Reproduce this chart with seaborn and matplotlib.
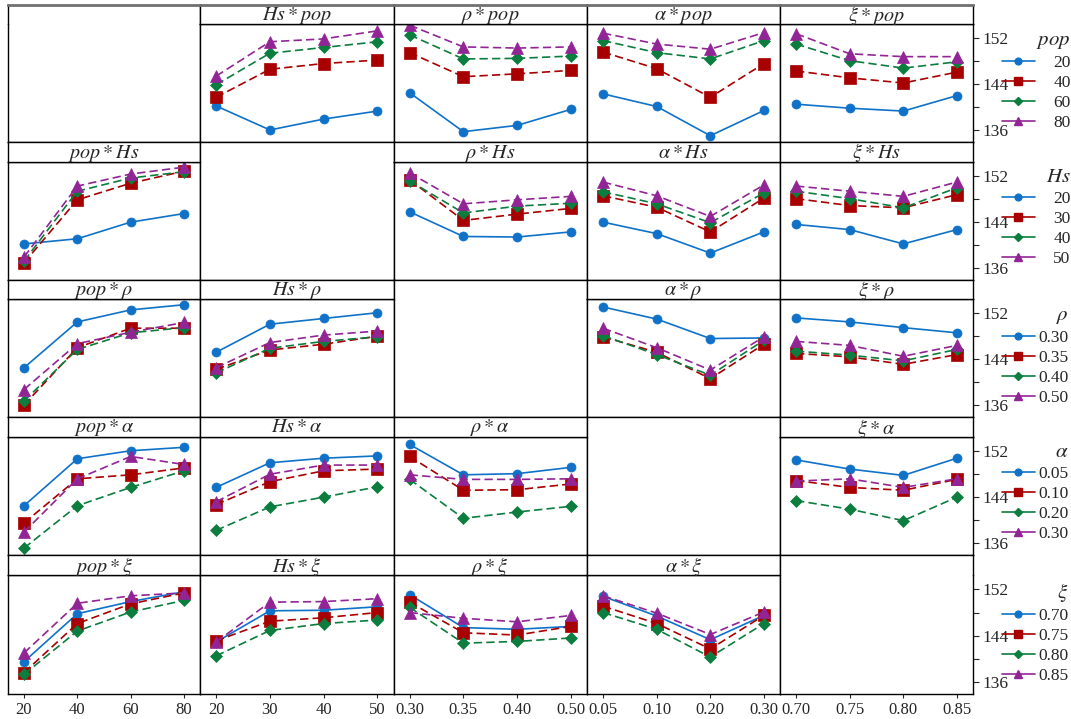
import numpy as np
import pandas as pd
import matplotlib
matplotlib.use("Agg")
import matplotlib.pyplot as plt
from matplotlib.lines import Line2D
from matplotlib.ticker import FixedLocator
import seaborn as sns

# ---------------- data ----------------
factors = ["pop", "Hs", "rho", "alpha", "xi"]
factor_tex = {"pop": "pop", "Hs": "Hs", "rho": r"\rho", "alpha": r"\alpha", "xi": r"\xi"}

pop_levels = ["20", "40", "60", "80"]
Hs_levels = ["20", "30", "40", "50"]
rho_levels = ["0.30", "0.35", "0.40", "0.50"]
alpha_levels = ["0.05", "0.10", "0.20", "0.30"]
xi_levels = ["0.70", "0.75", "0.80", "0.85"]
levels = {"pop": pop_levels, "Hs": Hs_levels, "rho": rho_levels,
          "alpha": alpha_levels, "xi": xi_levels}

# panel arrays: <x factor>_<hue factor>, one row per hue level
Hs_pop = [[140.2, 136.0, 137.9, 139.3], [141.7, 146.6, 147.6, 148.2],
          [143.9, 149.4, 150.4, 151.4], [145.4, 151.4, 151.9, 153.3]]
rho_pop = [[142.5, 135.7, 136.8, 139.6], [149.5, 145.3, 145.8, 146.4],
           [152.6, 148.4, 148.5, 148.9], [154.3, 150.5, 150.3, 150.5]]
alpha_pop = [[142.3, 140.1, 135.0, 139.4], [149.6, 146.7, 141.7, 147.6],
             [151.6, 149.5, 148.4, 151.6], [152.9, 151.0, 150.1, 153.0]]
xi_pop = [[140.5, 139.8, 139.3, 142.0], [146.3, 145.1, 144.2, 146.1],
          [151.0, 148.1, 146.8, 147.9], [152.8, 149.3, 148.8, 148.8]]

pop_Hs = [[140.2, 141.1, 144.0, 145.5], [136.9, 147.9, 150.8, 152.9],
          [137.2, 149.4, 151.7, 152.8], [137.9, 150.3, 152.4, 153.6]]
rho_Hs = [[145.8, 141.5, 141.4, 142.3], [151.4, 144.3, 145.4, 146.4],
          [151.2, 145.6, 146.8, 147.3], [152.6, 147.2, 147.9, 148.5]]
alpha_Hs = [[144.0, 142.0, 138.6, 142.3], [148.6, 146.6, 142.3, 148.2],
            [149.3, 147.2, 143.9, 149.1], [151.0, 148.6, 145.0, 150.5]]
xi_Hs = [[143.6, 142.7, 140.2, 142.7], [148.1, 146.9, 146.5, 148.8],
         [149.4, 148.1, 146.5, 150.0], [150.3, 149.4, 148.5, 151.0]]

pop_rho = [[142.5, 150.5, 152.6, 153.5], [136.0, 146.0, 149.4, 149.4],
           [136.7, 145.7, 148.6, 149.5], [138.7, 146.7, 148.7, 150.4]]
Hs_rho = [[145.2, 150.1, 151.1, 152.1], [142.2, 145.6, 146.6, 148.0],
          [141.6, 145.9, 147.1, 147.9], [142.5, 146.9, 148.2, 148.9]]
alpha_rho = [[153.1, 151.0, 147.6, 147.7], [147.9, 145.2, 140.6, 146.6],
             [148.1, 144.8, 141.2, 147.3], [149.4, 146.0, 142.1, 147.9]]
xi_rho = [[151.2, 150.5, 149.5, 148.6], [145.0, 144.4, 143.1, 144.8],
          [145.4, 144.7, 143.7, 145.7], [147.1, 146.4, 144.5, 146.4]]

pop_alpha = [[142.5, 150.7, 152.1, 152.7], [139.5, 147.2, 147.9, 149.1],
             [135.1, 142.5, 145.7, 148.6], [137.9, 147.2, 151.1, 149.7]]
Hs_alpha = [[145.7, 150.0, 150.8, 151.2], [142.7, 146.7, 148.6, 148.9],
            [138.2, 142.3, 144.0, 145.8], [143.2, 148.0, 149.6, 149.6]]
rho_alpha = [[153.2, 147.9, 148.1, 149.2], [151.1, 145.2, 145.3, 146.3],
             [147.1, 140.3, 141.4, 142.4], [147.9, 147.1, 147.1, 147.2]]
xi_alpha = [[150.5, 148.9, 147.8, 150.8], [146.9, 145.7, 145.2, 147.1],
            [143.4, 141.9, 139.9, 144.0], [146.8, 147.2, 145.7, 147.2]]

pop_xi = [[139.5, 147.8, 149.9, 151.6], [137.6, 146.1, 149.5, 151.4],
          [137.3, 144.8, 148.1, 150.1], [141.0, 149.6, 150.9, 151.4]]
Hs_xi = [[142.9, 148.3, 148.4, 149.0], [143.1, 146.5, 147.1, 148.0],
         [140.5, 144.9, 146.1, 146.7], [142.9, 149.8, 149.9, 150.4]]
rho_xi = [[151.1, 145.4, 145.1, 145.6], [149.8, 144.5, 144.1, 145.6],
          [148.9, 142.7, 143.0, 143.6], [148.0, 147.0, 146.4, 147.5]]
alpha_xi = [[150.8, 147.4, 143.3, 147.5], [149.1, 146.1, 141.7, 147.5],
            [148.0, 145.1, 140.3, 146.1], [150.9, 147.9, 144.2, 148.1]]

panels = {
    ("pop", "Hs"): Hs_pop, ("pop", "rho"): rho_pop, ("pop", "alpha"): alpha_pop, ("pop", "xi"): xi_pop,
    ("Hs", "pop"): pop_Hs, ("Hs", "rho"): rho_Hs, ("Hs", "alpha"): alpha_Hs, ("Hs", "xi"): xi_Hs,
    ("rho", "pop"): pop_rho, ("rho", "Hs"): Hs_rho, ("rho", "alpha"): alpha_rho, ("rho", "xi"): xi_rho,
    ("alpha", "pop"): pop_alpha, ("alpha", "Hs"): Hs_alpha, ("alpha", "rho"): rho_alpha, ("alpha", "xi"): xi_alpha,
    ("xi", "pop"): pop_xi, ("xi", "Hs"): Hs_xi, ("xi", "rho"): rho_xi, ("xi", "alpha"): alpha_xi,
}

# ---------------- style ----------------
sns.set_style("ticks")
plt.rcParams["font.family"] = ["Liberation Serif", "DejaVu Serif"]
plt.rcParams["mathtext.fontset"] = "stix"

colors = ["#0F72C8", "#A80000", "#0B7D3E", "#922596"]
marker_list = ["o", "s", "D", "^"]
msizes = {"o": 6.5, "s": 8.5, "D": 6.0, "^": 8.5}
dash_list = ["", (5, 2.5), (5, 2.5), (5, 2.5)]

W, H = 1071, 719
fig = plt.figure(figsize=(W / 100, H / 100), dpi=100)

col_left = [8, 200, 393.5, 587, 780]
col_right = [200, 393.5, 587, 780, 973]
strip_top = [5, 142, 280, 417, 555]
plot_top = [24, 162, 299, 437, 575]
plot_bot = [142, 280, 417, 555, 694]
YLIM = (133.9, 154.5)


def fax(x0, x1, y0, y1):
    return fig.add_axes([x0 / W, 1 - y1 / H, (x1 - x0) / W, (y1 - y0) / H])


for i, hue_f in enumerate(factors):
    for j, x_f in enumerate(factors):
        ax = fax(col_left[j], col_right[j], plot_top[i], plot_bot[i])
        sax = fax(col_left[j], col_right[j], strip_top[i], plot_top[i])
        sax.set_xticks([]); sax.set_yticks([])
        for sp in sax.spines.values():
            sp.set_color("black"); sp.set_linewidth(1.0)
        for sp in ax.spines.values():
            sp.set_color("black"); sp.set_linewidth(1.0)
        if i == 0:
            sax.spines["top"].set_color("#707070")
            sax.spines["top"].set_linewidth(2.0)
        if i == j:
            sax.spines["bottom"].set_visible(False)
            ax.spines["top"].set_visible(False)
        else:
            sax.text(0.5, 0.45, rf"${factor_tex[x_f]}*{factor_tex[hue_f]}$",
                     ha="center", va="center", fontsize=14.5, transform=sax.transAxes)
            vals = panels[(hue_f, x_f)]
            hl = levels[hue_f]
            rows = []
            for k, lv in enumerate(hl):
                for p in range(4):
                    rows.append({"x": p, "y": vals[k][p], "g": lv})
            df = pd.DataFrame(rows)
            sns.lineplot(data=df, x="x", y="y", hue="g", style="g",
                         hue_order=hl, style_order=hl,
                         palette=dict(zip(hl, colors)),
                         markers=dict(zip(hl, marker_list)),
                         dashes=dict(zip(hl, dash_list)),
                         linewidth=1.2, legend=False, ax=ax)
            for ln in ax.lines:
                m = ln.get_marker()
                ln.set_markersize(msizes.get(m, 6))
                ln.set_markeredgecolor(ln.get_color())
                ln.set_markeredgewidth(0.5)
        ax.set_xlim(-0.3, 3.3)
        ax.set_ylim(*YLIM)
        ax.set_xlabel(""); ax.set_ylabel("")
        if i == 4:
            ax.set_xticks(range(4))
            ax.set_xticklabels(levels[x_f], fontsize=12)
            ax.tick_params(axis="x", direction="out", length=3, pad=3, width=0.8)
        else:
            ax.set_xticks([])
        if j == 4:
            ax.yaxis.tick_right()
            ax.set_yticks([136, 144, 152])
            ax.set_yticklabels(["136", "144", "152"], fontsize=12.5)
            ax.yaxis.set_minor_locator(FixedLocator([140, 148]))
            ax.tick_params(axis="y", which="both", direction="out", length=4,
                           width=0.8, pad=3, right=True, left=False)
        else:
            ax.set_yticks([])

    # legend for the row
    handles = [Line2D([], [], color=c, marker=m, linestyle="-", linewidth=1.2,
                      markersize=msizes[m] * 0.75, markeredgecolor=c)
               for c, m in zip(colors, marker_list)]
    ytop = strip_top[i] + 26
    short = len(levels[hue_f][0]) <= 2
    leg = fig.legend(handles, levels[hue_f], loc="upper left",
                     bbox_to_anchor=(1002 / W, 1 - ytop / H),
                     frameon=False, fontsize=12.5, handlelength=1.9,
                     handletextpad=(1.05 if short else 0.2),
                     labelspacing=0.22, borderpad=0.0, borderaxespad=0.0,
                     title=rf"${factor_tex[hue_f]}$", title_fontsize=15,
                     alignment="right")

fig.savefig("out.png", dpi=100)
